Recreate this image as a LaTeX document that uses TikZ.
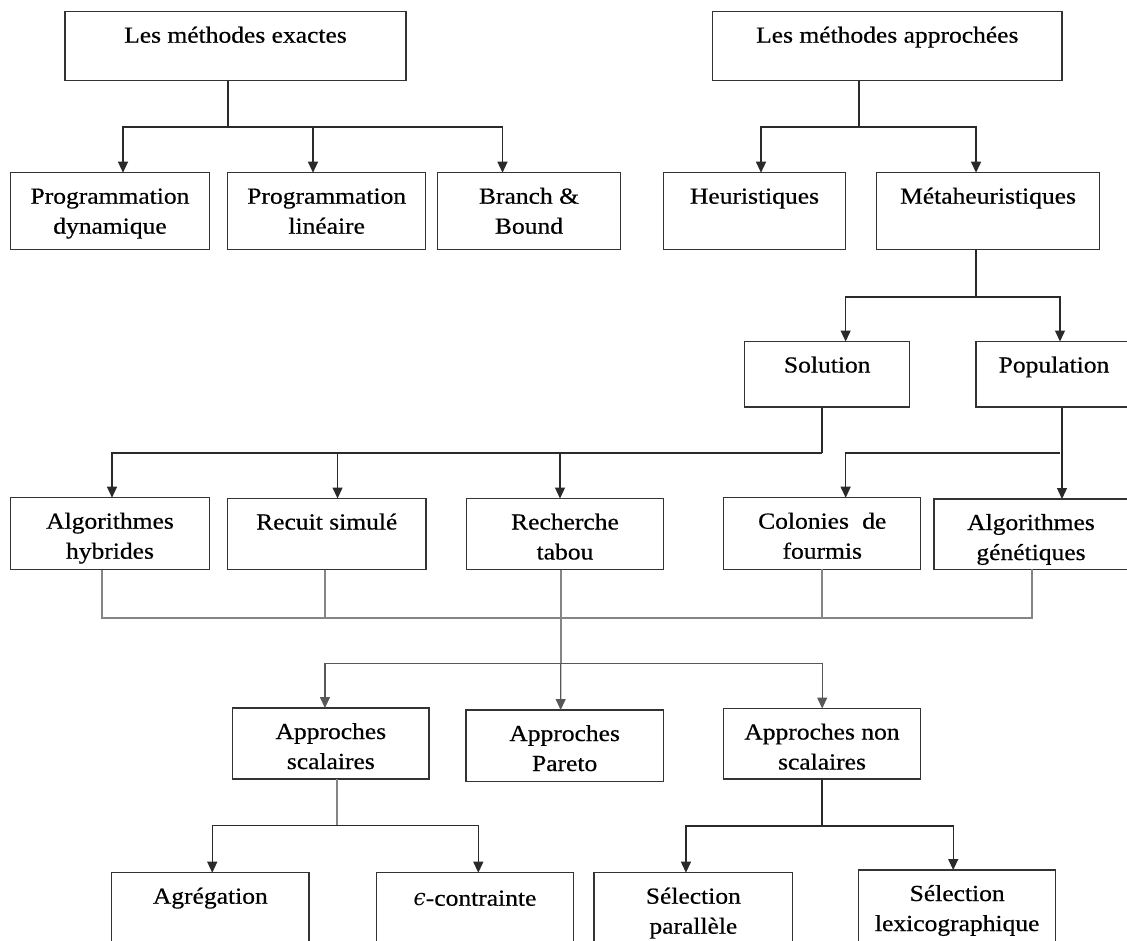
\documentclass[tikz,border=0pt]{standalone}
\usepackage{fontspec}
\setmainfont{Liberation Serif}[FakeStretch=1.11, FakeBold=0.5]
\newfontfamily\greekit{DejaVu Serif}[FakeStretch=0.95]
\usetikzlibrary{arrows.meta,calc}

\definecolor{boxc}{HTML}{333333}
\definecolor{linec}{HTML}{2A2A2A}
\definecolor{busc}{HTML}{858585}

% text block of a box: fixed size, text hung from the top edge
\newcommand\cellbox[3]{\parbox[c][#2][t]{#1}{\centering\rule{0pt}{31pt}#3\par}}

\tikzset{
  box/.style={draw=boxc, line width=1.3pt, inner sep=0pt, outer sep=0pt,
              anchor=north west, font=\fontsize{23}{30}\selectfont},
  link/.style={draw=linec, line width=1.2pt},
  arrowlink/.style={link, -{Triangle[width=10pt,length=11pt]}},
  graylink/.style={draw=busc, line width=1.7pt},
}

\begin{document}
\begin{tikzpicture}[x=1pt, y=-1pt]
\useasboundingbox (0,0) rectangle (1127,940);
\clip (0,0) rectangle (1127,940);
\fill[white] (0,0) rectangle (1127,940);

% ---- top level
\node[box] (ex)   at (65,11.7)    {\cellbox{341pt}{69pt}{Les méthodes exactes}};
\node[box] (ap)   at (712.6,11.7) {\cellbox{349.4pt}{69pt}{Les méthodes approchées}};

% ---- exact methods / approximate methods
\node[box] (pd)   at (10.7,172.7)  {\cellbox{198.6pt}{76.6pt}{Programmation\\dynamique}};
\node[box] (pl)   at (227.7,172.7) {\cellbox{198pt}{76.6pt}{Programmation\\linéaire}};
\node[box] (bb)   at (437.7,172.7) {\cellbox{182.6pt}{76.6pt}{Branch \&\\Bound}};
\node[box] (heu)  at (663.3,172.7) {\cellbox{182.4pt}{76.6pt}{Heuristiques}};
\node[box] (meta) at (876.5,172.7) {\cellbox{223.1pt}{76.6pt}{Métaheuristiques}};

% ---- metaheuristics
\node[box] (sol)  at (744.8,341.5) {\cellbox{164.9pt}{65.5pt}{Solution}};
\node[box] (pop)  at (976,341.5)   {\cellbox{156pt}{65.5pt}{Population}};

\node[box] (ah)   at (10.7,497.7)  {\cellbox{198.6pt}{72pt}{Algorithmes\\hybrides}};
\node[box] (rs)   at (227.5,498.5) {\cellbox{198.5pt}{71pt}{Recuit simulé}};
\node[box] (rt)   at (466.7,498.5) {\cellbox{196.6pt}{71pt}{Recherche\\tabou}};
\node[box] (col)  at (723.8,497.7) {\cellbox{196.9pt}{71.6pt}{Colonies\hspace{0.3em} de\\fourmis}};
\node[box] (ag)   at (934,499)     {\cellbox{194pt}{70.3pt}{Algorithmes\\génétiques}};

% ---- multi-objective approaches
\node[box] (asc)  at (232.7,708)   {\cellbox{196.3pt}{71pt}{Approches\\scalaires}};
\node[box] (apa)  at (466,710)     {\cellbox{197.3pt}{71.7pt}{Approches\\Pareto}};
\node[box] (ans)  at (723.5,708.5) {\cellbox{197pt}{70.5pt}{Approches non\\scalaires}};

\node[box] (agr)  at (111.7,872.7) {\cellbox{197.3pt}{80pt}{Agrégation}};
\node[box] (eps)  at (376.7,872.7) {\cellbox{196.6pt}{80pt}{\raisebox{-2pt}{{\greekit\itshape ϵ}-contrainte}}};
\node[box] (sp)   at (594,872.7)   {\cellbox{198.7pt}{80pt}{Sélection\\parallèle}};
\node[box] (sl)   at (858.7,870)   {\cellbox{197pt}{80pt}{Sélection\\lexicographique}};

% ---- junction points
\coordinate (jA) at (228,127);
\coordinate (jB) at (859,127);
\coordinate (jC) at (976,297);
\coordinate (jD) at (822,453);
\coordinate (jE) at (1060,453);
\coordinate (jF) at (560.7,618);
\coordinate (jG) at (560.7,663.3);
\coordinate (jH) at (337,825.7);
\coordinate (jI) at (822,826);

% exact methods
\draw[link] (ex.south -| jA) -- (jA);
\draw[arrowlink] (jA) -| ([xshift=13pt]pd.north);
\draw[arrowlink] (jA) -| ([xshift=-13.7pt]pl.north);
\draw[arrowlink] (jA) -| ([xshift=-26.5pt]bb.north);

% approximate methods
\draw[link] (ap.south -| jB) -- (jB);
\draw[arrowlink] (jB) -| ([xshift=6.5pt]heu.north);
\draw[arrowlink] (jB) -| ([xshift=-12pt]meta.north);

% metaheuristics
\draw[link] (meta.south -| jC) -- (jC);
\draw[arrowlink] (jC) -| ([xshift=18.4pt]sol.north);
\draw[arrowlink] (jC) -| ([xshift=6pt]pop.north);

% single-solution methods
\draw[link] (sol.south -| jD) -- (jD);
\draw[arrowlink] (jD) -| ([xshift=2pt]ah.north);
\draw[arrowlink] (jD) -| ([xshift=10.8pt]rs.north);
\draw[arrowlink] (jD) -| ([xshift=-5pt]rt.north);

% population methods
\draw[arrowlink] ([xshift=8pt]pop.south) -- ([xshift=31pt]ag.north);
\draw[arrowlink] (jE) -| ([xshift=23.4pt]col.north);

% gathering line under the methods
\draw[graylink] ([xshift=-8pt]ah.south) |- (jF);
\draw[graylink] ([xshift=-1.7pt]rs.south) |- (jF);
\draw[graylink] ([xshift=-4.3pt]rt.south) -- (jF);
\draw[graylink] (col.south) |- (jF);
\draw[graylink] ([xshift=0.7pt]ag.south) |- (jF);
\draw[graylink] (jF) -- (jG);

% approaches
\draw[arrowlink, draw=busc!50!linec] (jG) -| ([xshift=-5.9pt]asc.north);
\draw[arrowlink, draw=busc!50!linec] (jG) -- ([xshift=-4pt]apa.north);
\draw[arrowlink, draw=busc!50!linec] (jG) -| ([xshift=0.2pt]ans.north);

% scalar approaches
\draw[link, draw=busc] (asc.south -| jH) -- (jH);
\draw[arrowlink] (jH) -| ([xshift=1.9pt]agr.north);
\draw[arrowlink] (jH) -| ([xshift=3.3pt]eps.north);

% non-scalar approaches
\draw[link] (ans.south -| jI) -- (jI);
\draw[arrowlink] (jI) -| ([xshift=-7.4pt]sp.north);
\draw[arrowlink] (jI) -| ([xshift=-4pt]sl.north);
\end{tikzpicture}
\end{document}
